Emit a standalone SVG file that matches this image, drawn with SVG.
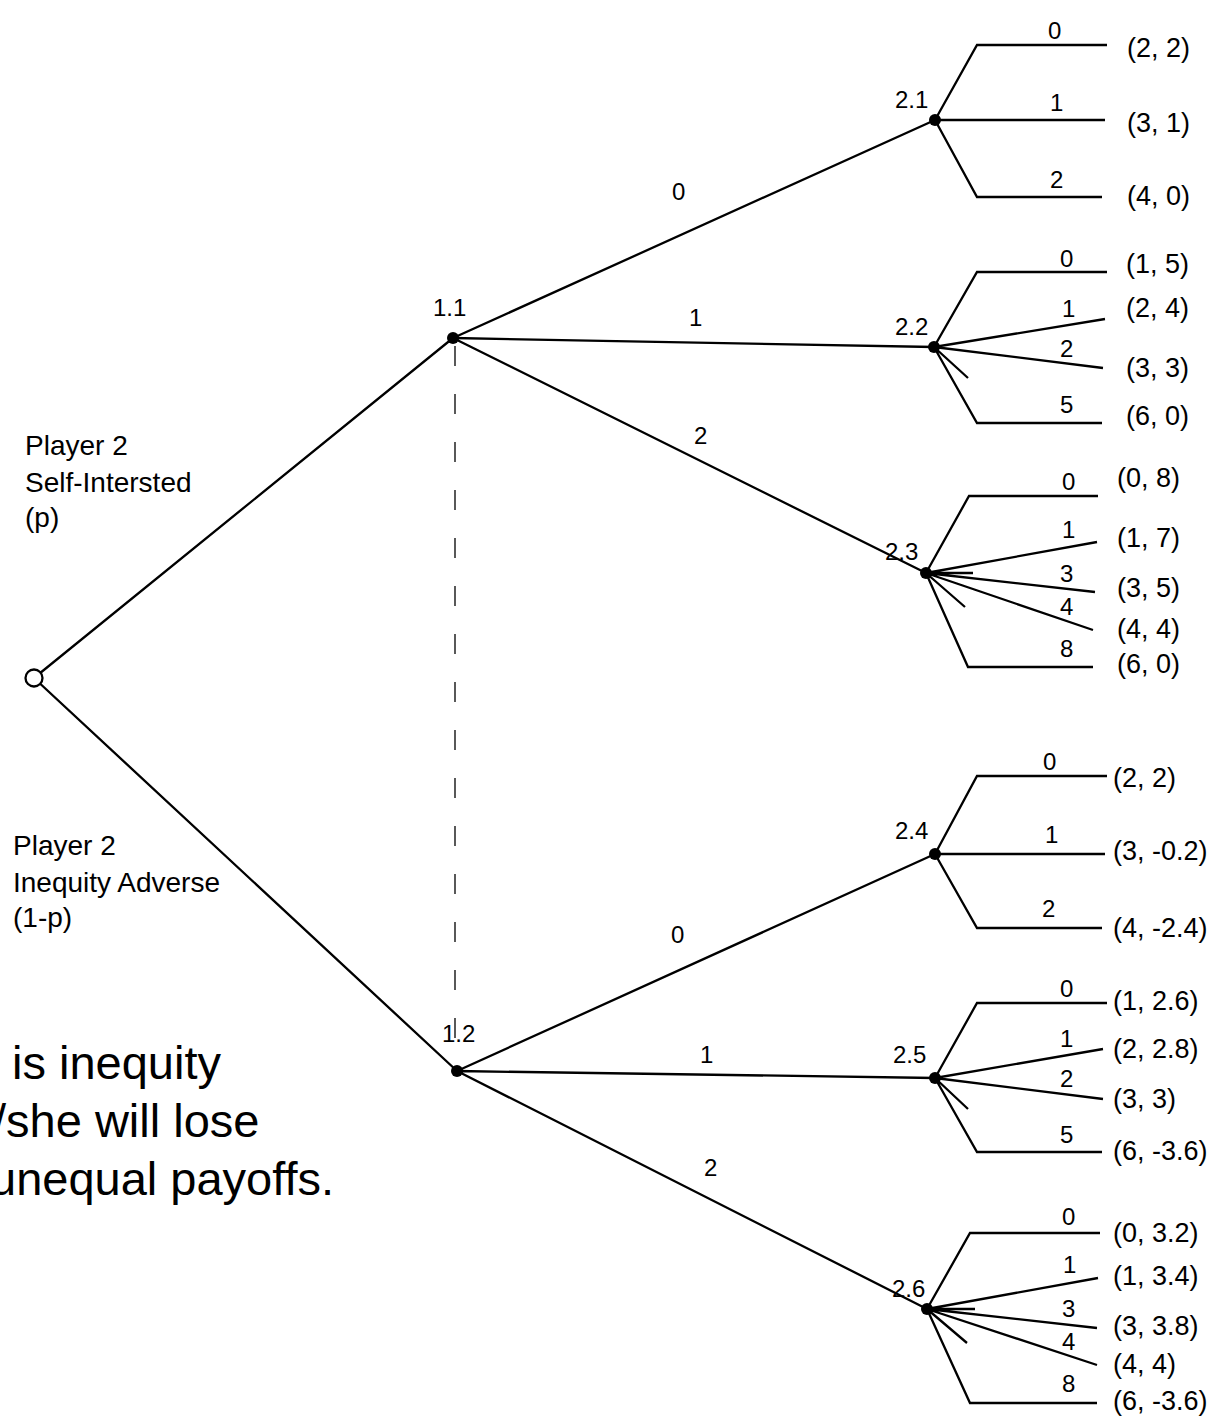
<svg xmlns="http://www.w3.org/2000/svg" width="1225" height="1420" viewBox="0 0 1225 1420">
<style>
.e{stroke:#000;stroke-width:2.3;fill:none;stroke-linecap:butt}
.d{stroke:#000;stroke-width:1.3;stroke-dasharray:20 28;fill:none}
text{font-family:"Liberation Sans",Arial,sans-serif;fill:#000}
.lb{font-size:24px}
.nl{font-size:24px}
.pf{font-size:27px}
.pl{font-size:28px;fill:#222}
.big{font-size:47px}
.dot{fill:#000}
</style>
<rect width="1225" height="1420" fill="#fff"/>
<g id="connectors">
<path class="e" d="M34 678L453 338M34 678L457 1071"/>
<path class="d" d="M455 346V1050"/>
<path class="e" d="M453 338L935 120M453 338L934 347M453 338L926 573"/>
<path class="e" d="M457 1071L935 854M457 1071L935 1078M457 1071L927 1309"/>
<path class="e" d="M935 120L977 45H1107M935 120H1105M935 120L977 197H1102"/>
<path class="e" d="M934 347L977 272H1107M934 347L1105 319M934 347L1103 368M934 347L968 378M934 347L977 423H1102"/>
<path class="e" d="M926 573L969 496H1098M926 573L1097 542M926 573H973M926 573L1095 592M926 573L1093 630M926 573L965 607M926 573L968 667H1093"/>
<path class="e" d="M935 854L977 776H1107M935 854H1105M935 854L977 928H1102"/>
<path class="e" d="M935 1078L977 1003H1107M935 1078L1103 1049M935 1078L1103 1099M935 1078L968 1109M935 1078L977 1152H1102"/>
<path class="e" d="M927 1309L970 1233H1100M927 1309L1098 1278M927 1309H975M927 1309L1097 1328M927 1309L1097 1365M927 1309L967 1343M927 1309L970 1403H1097"/>
<g class="lb">
<text x="672" y="200">0</text><text x="689" y="326">1</text><text x="694" y="444">2</text>
<text x="671" y="943">0</text><text x="700" y="1063">1</text><text x="704" y="1176">2</text>
<text x="1048" y="39">0</text><text x="1050" y="111">1</text><text x="1050" y="188">2</text>
<text x="1060" y="267">0</text><text x="1062" y="317">1</text><text x="1060" y="357">2</text><text x="1060" y="413">5</text>
<text x="1062" y="490">0</text><text x="1062" y="538">1</text><text x="1060" y="582">3</text><text x="1060" y="615">4</text><text x="1060" y="657">8</text>
<text x="1043" y="770">0</text><text x="1045" y="843">1</text><text x="1042" y="917">2</text>
<text x="1060" y="997">0</text><text x="1060" y="1047">1</text><text x="1060" y="1087">2</text><text x="1060" y="1143">5</text>
<text x="1062" y="1225">0</text><text x="1063" y="1273">1</text><text x="1062" y="1317">3</text><text x="1062" y="1350">4</text><text x="1062" y="1392">8</text>
</g>
</g>
<g id="root"><circle cx="34" cy="678" r="8.5" fill="#fff" stroke="#000" stroke-width="2.3"/></g>
<g id="n1.1"><circle class="dot" cx="453" cy="338" r="6"/><text class="nl" x="433" y="316">1.1</text></g>
<g id="n1.2"><circle class="dot" cx="457" cy="1071" r="6"/><text class="nl" x="442" y="1042">1.2</text></g>
<g id="n2.1"><circle class="dot" cx="935" cy="120" r="6"/><text class="nl" x="895" y="108">2.1</text></g>
<g id="n2.2"><circle class="dot" cx="934" cy="347" r="6"/><text class="nl" x="895" y="335">2.2</text></g>
<g id="n2.3"><circle class="dot" cx="926" cy="573" r="6"/><text class="nl" x="885" y="560">2.3</text></g>
<g id="n2.4"><circle class="dot" cx="935" cy="854" r="6"/><text class="nl" x="895" y="839">2.4</text></g>
<g id="n2.5"><circle class="dot" cx="935" cy="1078" r="6"/><text class="nl" x="893" y="1063">2.5</text></g>
<g id="n2.6"><circle class="dot" cx="927" cy="1309" r="6"/><text class="nl" x="892" y="1297">2.6</text></g>
<g id="payoffs" class="pf">
<text x="1127" y="57">(2, 2)</text><text x="1127" y="132">(3, 1)</text><text x="1127" y="205">(4, 0)</text>
<text x="1126" y="273">(1, 5)</text><text x="1126" y="317">(2, 4)</text><text x="1126" y="377">(3, 3)</text><text x="1126" y="425">(6, 0)</text>
<text x="1117" y="487">(0, 8)</text><text x="1117" y="547">(1, 7)</text><text x="1117" y="597">(3, 5)</text><text x="1117" y="638" fill="#444">(4, 4)</text><text x="1117" y="673">(6, 0)</text>
<text x="1113" y="787">(2, 2)</text><text x="1113" y="860">(3, -0.2)</text><text x="1113" y="937">(4, -2.4)</text>
<text x="1113" y="1010">(1, 2.6)</text><text x="1113" y="1058">(2, 2.8)</text><text x="1113" y="1108">(3, 3)</text><text x="1113" y="1160">(6, -3.6)</text>
<text x="1113" y="1242">(0, 3.2)</text><text x="1113" y="1285">(1, 3.4)</text><text x="1113" y="1335">(3, 3.8)</text><text x="1113" y="1373">(4, 4)</text><text x="1113" y="1410">(6, -3.6)</text>
</g>
<g id="type-labels" class="pl">
<text x="25" y="455">Player 2</text><text x="25" y="492">Self-Intersted</text><text x="25" y="527">(p)</text>
<text x="13" y="855">Player 2</text><text x="13" y="892">Inequity Adverse</text><text x="13" y="927">(1-p)</text>
</g>
<g id="note" class="big">
<text x="12" y="1079">is inequity</text>
<text x="-7" y="1137">/she will lose</text>
<text x="-10" y="1195">unequal payoffs.</text>
</g>
</svg>
